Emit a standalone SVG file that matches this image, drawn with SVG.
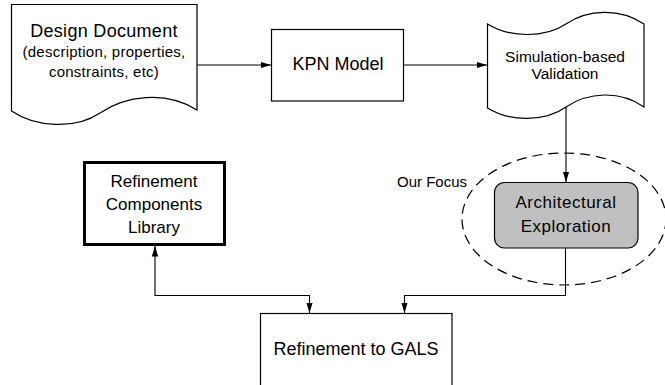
<svg xmlns="http://www.w3.org/2000/svg" width="665" height="385" viewBox="0 0 665 385">
<style>
.shape{fill:#fff;stroke:#000;stroke-width:1.2}
.conn{fill:none;stroke:#000;stroke-width:1.1}
text{font-family:"Liberation Sans",Arial,sans-serif;fill:#000;text-anchor:middle}
</style>
<defs>
<marker id="arr" markerUnits="userSpaceOnUse" markerWidth="11" markerHeight="8" viewBox="0 0 11 8" refX="10.5" refY="4" orient="auto-start-reverse">
<path d="M0,0.8 L10.5,4 L0,7.2 Z" fill="#000"/>
</marker>
</defs>
<rect width="665" height="385" fill="#fff"/>
<g id="design-document">
<path class="shape" d="M11.5,4.5 H197 V110 C165,90 125,96 100,113 C75,130 35,127 11.5,111 Z"/>
<text x="104" y="37" font-size="18" letter-spacing="0.3">Design Document</text>
<text x="104" y="57" font-size="15" letter-spacing="0.25">(description, properties,</text>
<text x="104" y="77" font-size="15" letter-spacing="0.25">constraints, etc)</text>
</g>
<g id="kpn-model">
<rect class="shape" x="271.5" y="29.5" width="132" height="71.5"/>
<text x="338" y="70" font-size="18">KPN Model</text>
</g>
<g id="simulation-validation">
<path class="shape" d="M487.5,24 C510,38 545,38 566,24 C588,9 620,8 644,24 V107 C620,90 588,92 566,107 C545,122 510,122 487.5,108 Z"/>
<text x="565" y="62" font-size="15.5">Simulation-based</text>
<text x="565" y="79" font-size="15.5">Validation</text>
</g>
<g id="our-focus">
<ellipse cx="564" cy="219" rx="102" ry="66" fill="none" stroke="#000" stroke-width="1.2" stroke-dasharray="10,6"/>
<text x="397" y="187" font-size="15" style="text-anchor:start">Our Focus</text>
</g>
<g id="architectural-exploration">
<rect x="494.5" y="182.5" width="143.5" height="65.5" rx="10" fill="#c0c0c0" stroke="#000" stroke-width="1.2"/>
<text x="566" y="208" font-size="17" letter-spacing="0.5">Architectural</text>
<text x="566" y="232" font-size="17" letter-spacing="0.5">Exploration</text>
</g>
<g id="refinement-library">
<rect x="84.5" y="162.5" width="140" height="82" fill="#fff" stroke="#000" stroke-width="3"/>
<text x="154" y="187" font-size="17">Refinement</text>
<text x="154" y="210" font-size="17">Components</text>
<text x="154" y="233" font-size="17">Library</text>
</g>
<g id="refinement-gals">
<rect class="shape" x="260.5" y="313.5" width="191.5" height="100"/>
<text x="356" y="355" font-size="18">Refinement to GALS</text>
</g>
<g id="connectors">
<path class="conn" d="M197,65 H271" marker-end="url(#arr)"/>
<path class="conn" d="M404,65 H487" marker-end="url(#arr)"/>
<path class="conn" d="M566,107 V182" marker-end="url(#arr)"/>
<path class="conn" d="M565.5,248 V295.5 H404.5 V313" marker-end="url(#arr)"/>
<path class="conn" d="M155,246 V295.5 H309.5 V313" marker-start="url(#arr)" marker-end="url(#arr)"/>
</g>
</svg>
